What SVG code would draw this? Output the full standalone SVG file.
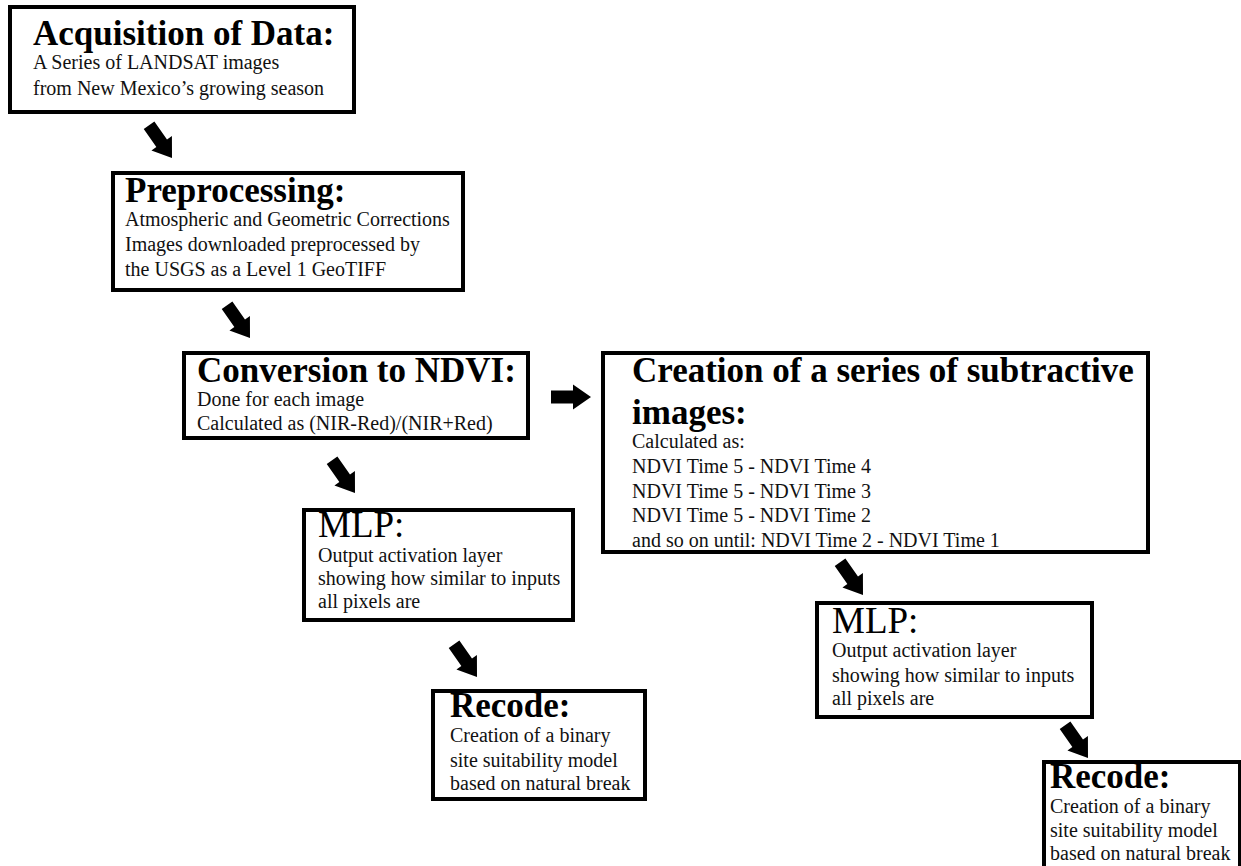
<svg xmlns="http://www.w3.org/2000/svg" width="1241" height="866" viewBox="0 0 1241 866">
<style>
.box{fill:#fff;stroke:#000;stroke-width:4}
.t{font-family:"Liberation Serif","Times New Roman",serif;font-weight:bold;font-size:35px;fill:#000}
.m{font-family:"Liberation Serif","Times New Roman",serif;font-size:37px;fill:#000}
.b{font-family:"Liberation Serif","Times New Roman",serif;font-size:20px;fill:#111}
.arr{fill:#000}
</style>
<defs>
<path id="arrow" class="arr" d="M-40,-6.5 L-18,-6.5 L-18,-12.5 L0,0 L-18,12.5 L-18,6.5 L-40,6.5 Z"/>
</defs>
<rect width="1241" height="866" fill="#fff"/>
<g id="connectors">
<use href="#arrow" transform="translate(172,158) rotate(55)"/>
<use href="#arrow" transform="translate(250,338) rotate(55)"/>
<use href="#arrow" transform="translate(591,397)"/>
<use href="#arrow" transform="translate(355,493) rotate(55)"/>
<use href="#arrow" transform="translate(477,677) rotate(55)"/>
<use href="#arrow" transform="translate(863,595) rotate(55)"/>
<use href="#arrow" transform="translate(1088,758) rotate(55)"/>
</g>
<g id="acquisition">
<rect class="box" x="10" y="7" width="344" height="105"/>
<text class="t" x="33" y="45">Acquisition of Data:</text>
<text class="b" x="33" y="69">A Series of LANDSAT images</text>
<text class="b" x="33" y="95">from New Mexico’s growing season</text>
</g>
<g id="preprocessing">
<rect class="box" x="113" y="173" width="350" height="117"/>
<text class="t" x="125" y="202">Preprocessing:</text>
<text class="b" x="125" y="226">Atmospheric and Geometric Corrections</text>
<text class="b" x="125" y="251">Images downloaded preprocessed by</text>
<text class="b" x="125" y="276">the USGS as a Level 1 GeoTIFF</text>
</g>
<g id="ndvi">
<rect class="box" x="184" y="353" width="344" height="85"/>
<text class="t" x="197" y="382">Conversion to NDVI:</text>
<text class="b" x="197" y="406">Done for each image</text>
<text class="b" x="197" y="430">Calculated as (NIR-Red)/(NIR+Red)</text>
</g>
<g id="subtractive">
<rect class="box" x="603" y="353" width="545" height="199"/>
<text class="t" x="632" y="382">Creation of a series of subtractive</text>
<text class="t" x="632" y="424">images:</text>
<text class="b" x="632" y="448">Calculated as:</text>
<text class="b" x="632" y="473">NDVI Time 5 - NDVI Time 4</text>
<text class="b" x="632" y="498">NDVI Time 5 - NDVI Time 3</text>
<text class="b" x="632" y="522">NDVI Time 5 - NDVI Time 2</text>
<text class="b" x="632" y="547">and so on until: NDVI Time 2 - NDVI Time 1</text>
</g>
<g id="mlp1">
<rect class="box" x="304" y="510" width="269" height="110"/>
<text class="m" x="318" y="537">MLP:</text>
<text class="b" x="318" y="562">Output activation layer</text>
<text class="b" x="318" y="585">showing how similar to inputs</text>
<text class="b" x="318" y="608">all pixels are</text>
</g>
<g id="recode1">
<rect class="box" x="433" y="691" width="212" height="108"/>
<text class="t" x="450" y="717">Recode:</text>
<text class="b" x="450" y="742">Creation of a binary</text>
<text class="b" x="450" y="767">site suitability model</text>
<text class="b" x="450" y="790">based on natural break</text>
</g>
<g id="mlp2">
<rect class="box" x="817" y="603" width="275" height="114"/>
<text class="m" x="832" y="633">MLP:</text>
<text class="b" x="832" y="657">Output activation layer</text>
<text class="b" x="832" y="682">showing how similar to inputs</text>
<text class="b" x="832" y="705">all pixels are</text>
</g>
<g id="recode2">
<rect class="box" x="1044" y="762" width="196" height="110"/>
<text class="t" x="1050" y="788">Recode:</text>
<text class="b" x="1050" y="813">Creation of a binary</text>
<text class="b" x="1050" y="837">site suitability model</text>
<text class="b" x="1050" y="860">based on natural break</text>
</g>
</svg>
